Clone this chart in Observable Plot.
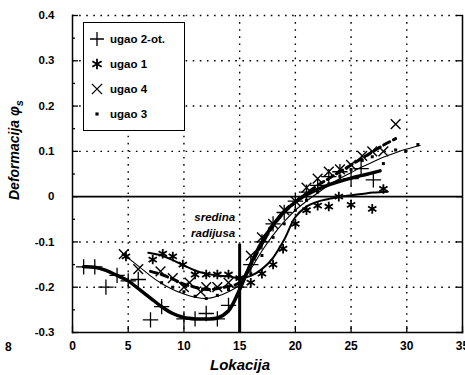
<!DOCTYPE html>
<html><head><meta charset="utf-8">
<script src="https://cdn.jsdelivr.net/npm/d3@7"></script>
<script src="https://cdn.jsdelivr.net/npm/@observablehq/plot@0.6"></script>
<style>
body{margin:0;background:#fff;}
#wrap{position:relative;width:465px;height:375px;font-family:"Liberation Sans",Arial,sans-serif;}
#legend{position:absolute;left:83px;top:22px;width:102px;height:109px;border:1.5px solid #000;background:#fff;box-sizing:border-box;}
.item{position:absolute;left:6px;height:16px;display:flex;align-items:center;font-weight:bold;font-size:11.5px;}
.item svg{margin-right:6px;}
#stray{position:absolute;left:5px;top:340px;font-weight:bold;font-size:12px;}
</style></head>
<body><div id="wrap"><div id="chart"></div><div id="legend"></div><div id="stray">8</div></div>
<script>
// ---- axes ----
const xTicks = [0,5,10,15,20,25,30,35];
const yTicks = [-0.3,-0.2,-0.1,0,0.1,0.2,0.3,0.4];
const yMinor = [-0.25,-0.15,-0.05,0.05,0.15,0.25,0.35];
const yTickLabels = ["-0.3","-0.2","-0.1","0","0.1","0.2","0.3","0.4"];

// ---- series: measured points ----
const p2x = [1,2,3,4,5,5.9,7,8,10,11,12,13,14,15,16,17,18,19,20,21,22,23,24,25,25.9,27];
const p2y = [-0.155,-0.155,-0.2,-0.174,-0.186,-0.183,-0.272,-0.243,-0.27,-0.27,-0.258,-0.27,-0.24,-0.2,-0.15,-0.1,-0.06,-0.035,-0.01,0.01,0.025,0.044,0.055,0.04,0.062,0.037];
const p1x = [4.8,7.2,8.1,9,9.9,11,12,13,14,15,16,17,18,18.9,20,21,22,23,23.9,25,26.9,27.9];
const p1y = [-0.132,-0.139,-0.126,-0.132,-0.15,-0.172,-0.172,-0.172,-0.172,-0.18,-0.19,-0.17,-0.15,-0.115,-0.06,-0.03,-0.02,-0.022,0.0,-0.018,-0.027,0.017];
const p4x = [4.6,5.9,7.9,9,10,10.5,11.5,12,13,14,16,17,18,19,20,21,22,23,24,25,26,26.9,27.9,29];
const p4y = [-0.127,-0.16,-0.165,-0.18,-0.2,-0.19,-0.21,-0.2,-0.2,-0.19,-0.13,-0.09,-0.06,-0.03,-0.01,0.02,0.04,0.055,0.06,0.07,0.09,0.1,0.1,0.16];
const p3x = [8,9,10,11,12,13,14,16,17,18,19,20,21,22,23,24,25,26,26.9,27.9,29,29.9,31];
const p3y = [-0.19,-0.2,-0.21,-0.22,-0.225,-0.218,-0.205,-0.17,-0.13,-0.09,-0.06,-0.03,-0.008,0.01,0.028,0.045,0.06,0.08,0.088,0.073,0.103,0.1,0.115];

// ---- fitted curves ----
const f2x = [1,2,3,4,5,6,7,8,9,10,11,12,13,14,15,16,17,18,19,20,21,22,23,24,25,26,27,27.6];
const f2y = [-0.155,-0.156,-0.163,-0.174,-0.186,-0.205,-0.224,-0.243,-0.258,-0.267,-0.27,-0.27,-0.268,-0.252,-0.205,-0.148,-0.1,-0.062,-0.033,-0.012,0.004,0.016,0.026,0.034,0.041,0.047,0.053,0.057];
const f1x = [6.8,8,9,10,11,12,13,14,15,16,17,18,19,20,21,22,23,24,25,26,27,28.3];
const f1y = [-0.124,-0.13,-0.14,-0.152,-0.163,-0.17,-0.174,-0.176,-0.18,-0.175,-0.16,-0.135,-0.095,-0.045,-0.022,-0.011,-0.005,0,0.003,0.006,0.009,0.011];
const f4x = [7,8,9,10,11,12,13,14,15,16,17,18,19,20,21,22,23,24,25,26,27,28,29];
const f4y = [-0.165,-0.172,-0.182,-0.193,-0.2,-0.205,-0.203,-0.198,-0.19,-0.15,-0.105,-0.065,-0.035,-0.012,0.007,0.025,0.04,0.055,0.07,0.085,0.1,0.115,0.128];
const f3x = [4.5,6,7,8,9,10,11,12,13,14,15,16,17,18,19,20,21,22,23,24,25,26,27,28,29,30,31.2];
const f3y = [-0.126,-0.155,-0.175,-0.192,-0.205,-0.215,-0.222,-0.225,-0.22,-0.21,-0.195,-0.16,-0.12,-0.085,-0.055,-0.03,-0.01,0.008,0.025,0.04,0.053,0.066,0.077,0.088,0.097,0.105,0.113];

const seriesNames = ["ugao 2-ot.","ugao 1","ugao 4","ugao 3"];
const annotX = [14.6,14.6];
const annotY = [-0.045,-0.08];
const annotText = ["sredina","radijusa"];
const markX = [15];
const markY1 = [-0.105];

const zip = (xs, ys) => xs.map((x,i) => ({x, y: ys[i]}));
const ann = annotX.map((x,i)=>({x, y: annotY[i], t: annotText[i]}));
const font = {fontWeight:"bold"};

const chart = Plot.plot({
  width: 465, height: 375,
  marginLeft: 72, marginRight: 3, marginTop: 15, marginBottom: 43,
  x: {domain: [0,35]},
  y: {domain: [-0.3,0.4]},
  style: {fontFamily: "Liberation Sans, Arial, sans-serif", fontSize: "11.5px", color: "black", background: "white"},
  marks: [
    Plot.gridX(xTicks.slice(1,-1), {stroke:"black", strokeOpacity:1, strokeDasharray:"1.6,5.5", strokeWidth:1.4}),
    Plot.gridY(yTicks.filter(d => d !== -0.3 && d !== 0), {stroke:"black", strokeOpacity:1, strokeDasharray:"1.6,5.5", strokeWidth:1.4}),
    Plot.frame({anchor:"left", strokeWidth:1.5}),
    Plot.frame({anchor:"bottom", strokeWidth:1.5}),
    Plot.frame({anchor:"right", strokeWidth:1.5}),
    Plot.ruleY([0], {strokeWidth:1.6}),
    Plot.tickY(yTicks, {y: d=>d, insetRight: 384, strokeWidth:1.3}),
    Plot.tickY(yTicks, {y: d=>d, insetLeft: 384, strokeWidth:1.3}),
    Plot.tickY(yMinor, {y: d=>d, insetRight: 387, strokeWidth:1.3}),
    Plot.tickX(xTicks, {x: d=>d, insetTop: 311, strokeWidth:1.3}),
    Plot.axisX(xTicks, {tickSize:0, tickPadding:9, label:null, fontWeight:"bold", fontSize:12}),
    Plot.axisY(yTicks, {tickSize:0, tickPadding:18, label:null, tickFormat:(d,i)=>yTickLabels[yTicks.indexOf(d)], fontWeight:"bold", fontSize:11.5}),
    // fitted curves
    Plot.line(zip(f3x,f3y), {x:"x", y:"y", curve:"catmull-rom", strokeWidth:1.1}),
    Plot.line(zip(f1x,f1y), {x:"x", y:"y", curve:"catmull-rom", strokeWidth:2}),
    Plot.line(zip(f4x,f4y), {x:"x", y:"y", curve:"catmull-rom", strokeWidth:3, strokeDasharray:"7,4"}),
    Plot.line(zip(f2x,f2y), {x:"x", y:"y", curve:"catmull-rom", strokeWidth:3.5}),
    // points
    Plot.dot(zip(p2x,p2y), {x:"x", y:"y", symbol:"plus", r:5, stroke:"black", strokeWidth:1.3}),
    Plot.dot(zip(p1x,p1y), {x:"x", y:"y", symbol:"asterisk", r:4.5, stroke:"black", strokeWidth:1.8}),
    Plot.dot(zip(p4x,p4y), {x:"x", y:"y", symbol:"times", r:4.5, stroke:"black", strokeWidth:1.4}),
    Plot.dot(zip(p3x,p3y), {x:"x", y:"y", symbol:"square", r:1.7, fill:"black", stroke:null}),
    // mid-radius marker
    Plot.ruleX(markX, {x: d=>d, y1: markY1[0], y2: -0.3, strokeWidth:3}),
    Plot.text(ann, {x:"x", y:"y", text:"t", textAnchor:"end", fontWeight:"bold", fontStyle:"italic", fontSize:11.5})
  ]
});
document.getElementById("chart").appendChild(chart);

// axis titles
const svg = d3.select(chart);
const yl = svg.append("text")
  .attr("transform","translate(19,150) rotate(-90)")
  .attr("text-anchor","middle")
  .style("font-weight","bold").style("font-style","italic").style("font-size","14px")
  .style("font-family","Liberation Sans, Arial, sans-serif");
yl.append("tspan").text("Deformacija φ");
yl.append("tspan").attr("dy", 4).style("font-size","11px").text("s");
svg.append("text")
  .attr("x", 240).attr("y", 370)
  .attr("text-anchor","middle")
  .style("font-weight","bold").style("font-style","italic").style("font-size","15px")
  .style("font-family","Liberation Sans, Arial, sans-serif")
  .text("Lokacija");

// legend
const symTypes = [d3.symbolPlus, d3.symbolAsterisk, d3.symbolTimes, d3.symbolSquare];
const symSizes = [110, 80, 70, 10];
const leg = d3.select("#legend");
seriesNames.forEach((name,i) => {
  const it = leg.append("div").attr("class","item").style("top", (8 + i*25) + "px");
  const s = it.append("svg").attr("width",14).attr("height",14);
  s.append("path").attr("transform","translate(7,7)")
    .attr("d", d3.symbol(symTypes[i], symSizes[i])())
    .attr("fill", i===3 ? "black" : "none")
    .attr("stroke", i===3 ? "none" : "black")
    .attr("stroke-width", i===1 ? 1.8 : 1.3);
  it.append("span").text(name);
});
</script>
</body></html>
